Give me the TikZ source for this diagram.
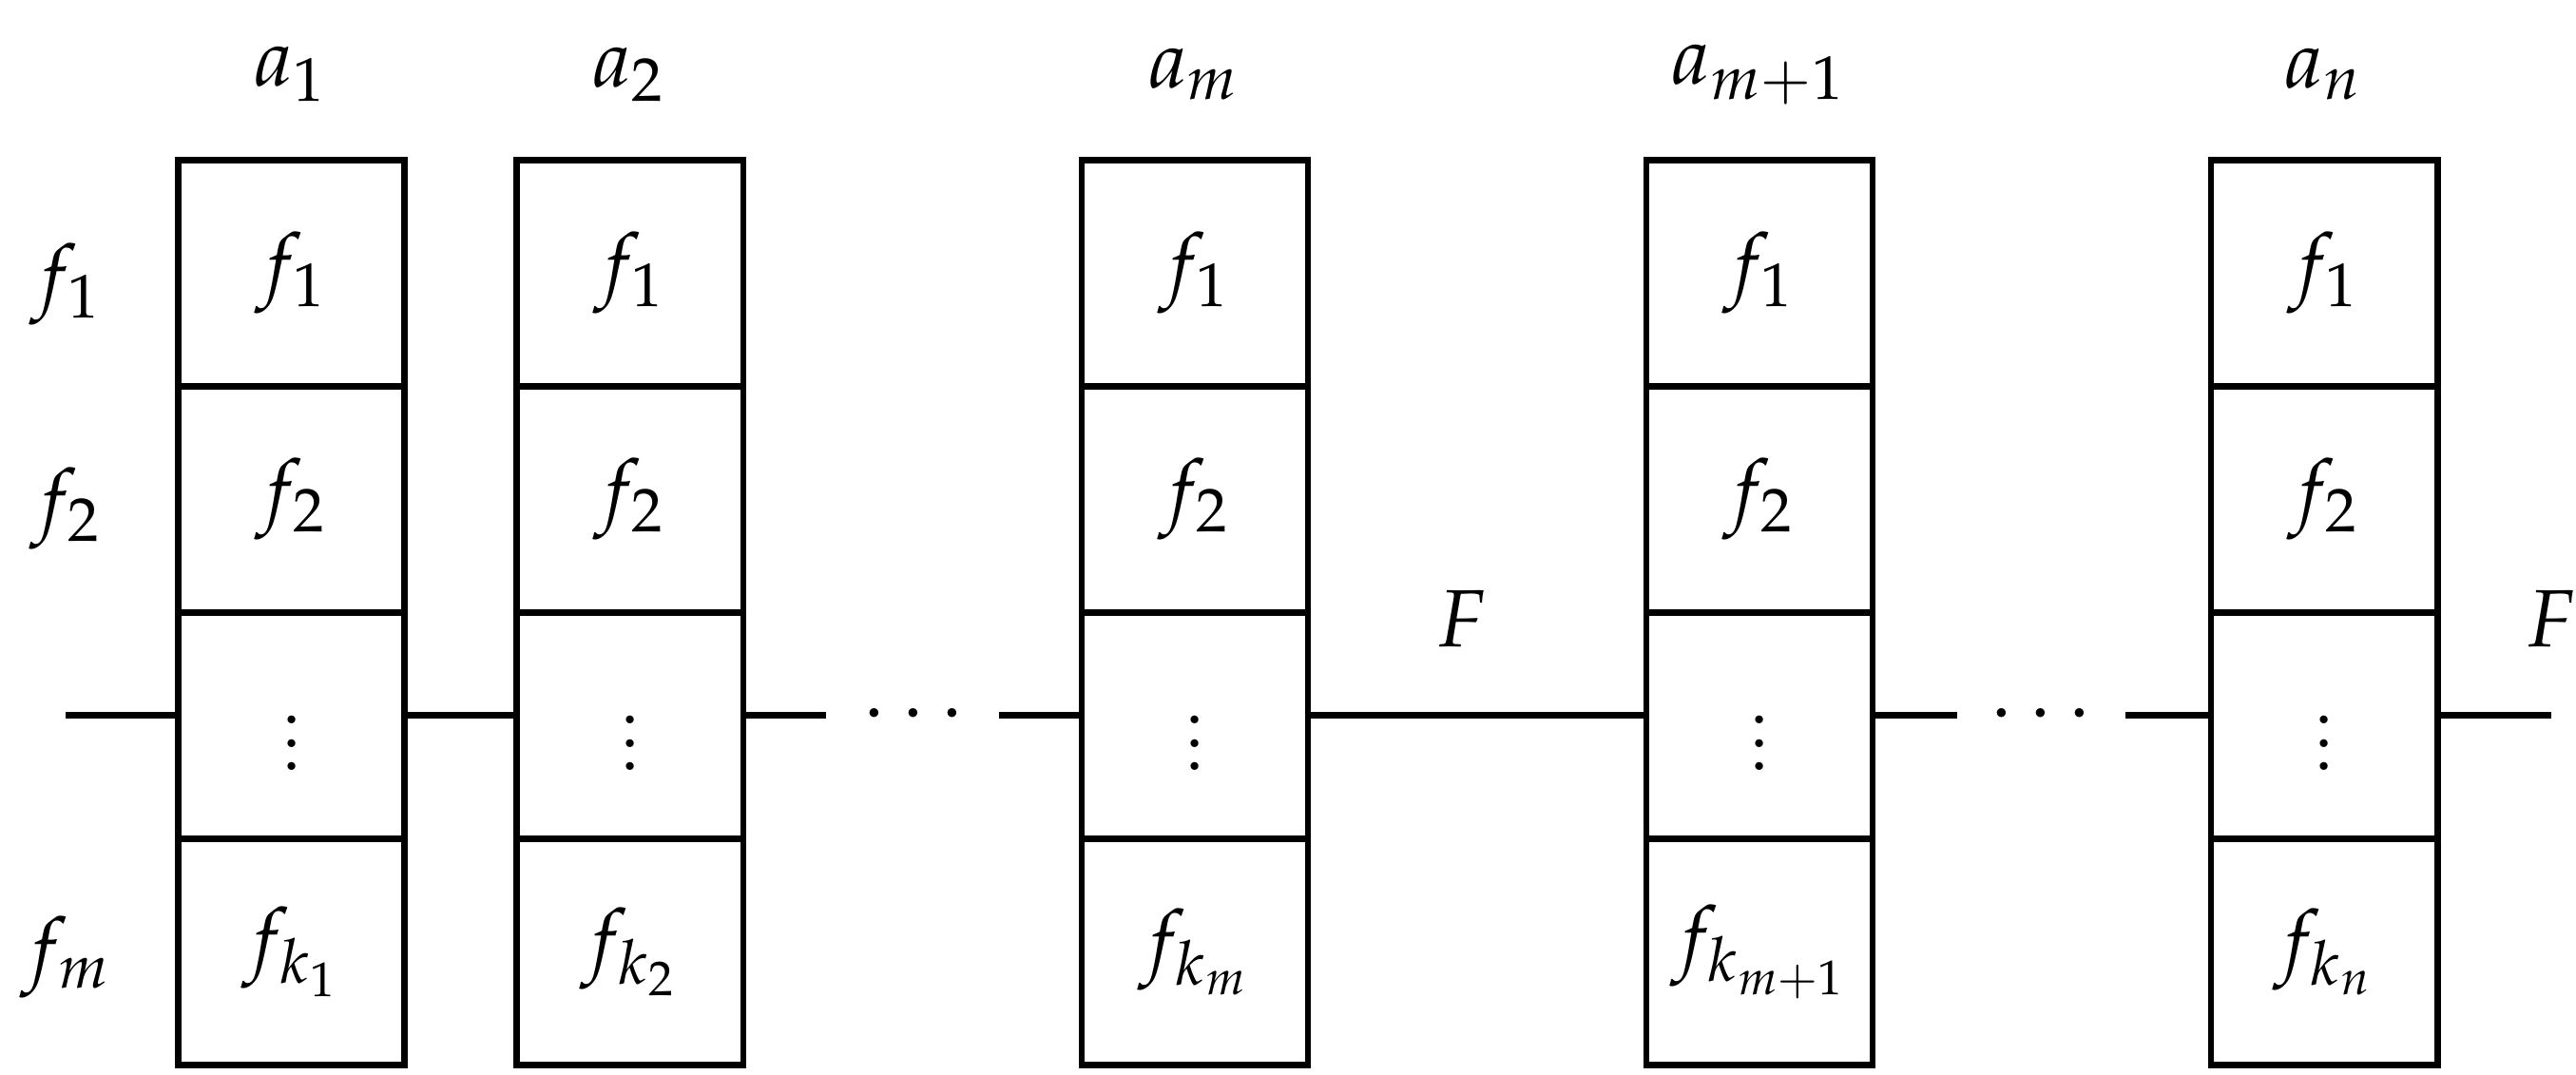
\documentclass[tikz,border=0pt]{standalone}
\usepackage{mathpazo}
\begin{document}
\begin{tikzpicture}[x=0.01cm,y=-0.01cm,line width=1.1pt,
  lab/.style={font=\fontsize{14}{16}\selectfont},
  cell/.style={draw,minimum width=1.37cm,minimum height=1.37cm,inner sep=0pt,outer sep=0pt,font=\fontsize{14}{16}\selectfont,anchor=north west}]
\useasboundingbox (0,0) rectangle (1560,651);
\foreach \x/\n/\a/\k in {108/1/a_1/f_{k_1},313/2/a_2/f_{k_2},655/3/a_m/f_{k_m},997/4/a_{m+1}/f_{k_{m+1}},1339/5/a_n/f_{k_n}}{
  \node[cell] (c\n1) at (\x,97) {$f_1$};
  \node[cell] (c\n2) at (\x,234) {$f_2$};
  \node[cell] (c\n3) at (\x,371) {$\vdots$};
  \node[cell] (c\n4) at (\x,508) {$\k$};
  \node[lab] (t\n) at (\x+68,45) {$\a$};
}
\node[lab] (l1) at (40,172) {$f_1$};
\node[lab] (l2) at (40,308) {$f_2$};
\node[lab] (l3) at (40,580) {$f_m$};
\coordinate (s) at (40,433);
\coordinate (e) at (1545,433);
\node[lab,inner sep=0pt] (d1) at (553,433) {$\cdots$};
\node[lab,inner sep=0pt] (d2) at (1236,433) {$\cdots$};
\node[lab] (F1) at (885,375) {$F$};
\node[lab] (F2) at (1545,375) {$F$};
\draw (s) -- (c13.west|-s);
\draw (c13.east|-s) -- (c23.west|-s);
\draw (c23.east|-s) -- (500,433);
\draw (605,433) -- (c33.west|-s);
\draw (c33.east|-s) -- (c43.west|-s);
\draw (c43.east|-s) -- (1185,433);
\draw (1287,433) -- (c53.west|-s);
\draw (c53.east|-s) -- (e);
\end{tikzpicture}
\end{document}
